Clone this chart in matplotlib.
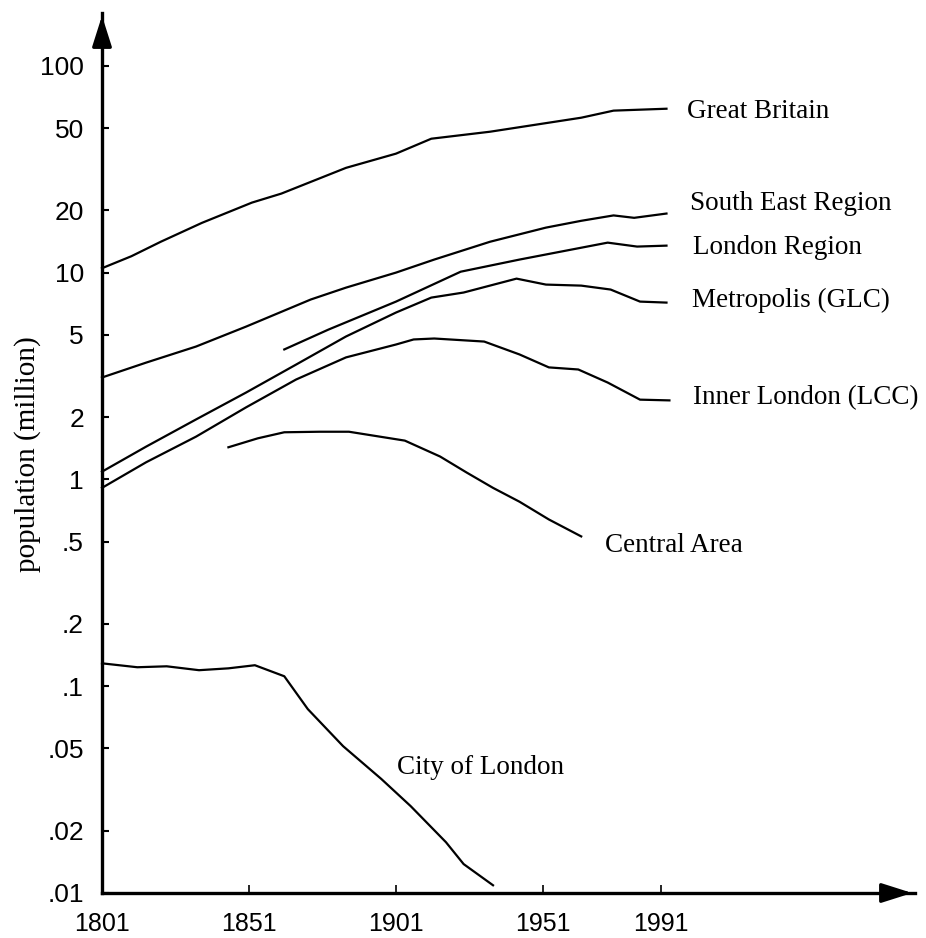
import matplotlib
matplotlib.use("Agg")
import matplotlib.pyplot as plt
from matplotlib import font_manager

# ---------------- data ----------------
gb_years = [1801, 1811, 1821, 1835, 1852, 1862, 1884, 1901, 1913, 1933, 1964, 1975, 1993]
gb_vals = [10.5, 12.0, 14.1, 17.4, 21.8, 24.1, 32.1, 37.6, 44.4, 48.0, 56.1, 60.7, 62.0]

se_years = [1801, 1816, 1833, 1850, 1872, 1884, 1901, 1914, 1933, 1952, 1964, 1975, 1982, 1993]
se_vals = [3.11, 3.67, 4.39, 5.48, 7.41, 8.46, 10.0, 11.56, 14.1, 16.5, 17.8, 18.9, 18.4, 19.3]

lr_years = [1863, 1878, 1901, 1923, 1943, 1973, 1983, 1993]
lr_vals = [4.25, 5.30, 7.24, 10.1, 11.56, 13.96, 13.36, 13.5]

glc_years = [1801, 1816, 1833, 1850, 1867, 1884, 1901, 1913, 1924, 1942, 1952, 1964, 1974, 1984, 1993]
glc_vals = [1.09, 1.44, 1.95, 2.63, 3.59, 4.91, 6.41, 7.57, 8.01, 9.35, 8.75, 8.65, 8.28, 7.24, 7.16]

lcc_years = [1801, 1816, 1833, 1850, 1867, 1884, 1901, 1907, 1914, 1931, 1943, 1953, 1963, 1973, 1984, 1994]
lcc_vals = [0.91, 1.21, 1.61, 2.23, 3.04, 3.89, 4.49, 4.75, 4.80, 4.64, 4.02, 3.48, 3.40, 2.94, 2.43, 2.41]

ca_years = [1844, 1854, 1863, 1875, 1885, 1904, 1916, 1925, 1934, 1943, 1953, 1964]
ca_vals = [1.43, 1.58, 1.69, 1.70, 1.70, 1.54, 1.29, 1.08, 0.91, 0.78, 0.64, 0.53]

city_years = [1801, 1813, 1823, 1834, 1844, 1853, 1863, 1871, 1883, 1896, 1906, 1918, 1924, 1934]
city_vals = [0.129, 0.1235, 0.1248, 0.1195, 0.122, 0.1263, 0.1117, 0.0775, 0.0513, 0.0356,
             0.0263, 0.0176, 0.0138, 0.0109]

series_names = ["Great Britain", "South East Region", "London Region", "Metropolis (GLC)",
                "Inner London (LCC)", "Central Area", "City of London"]

y_ticks = [100, 50, 20, 10, 5, 2, 1, 0.5, 0.2, 0.1, 0.05, 0.02, 0.01]
y_ticklabels = ["100", "50", "20", "10", "5", "2", "1", ".5", ".2", ".1", ".05", ".02", ".01"]
x_ticks = [1801, 1851, 1901, 1951, 1991]
x_ticklabels = ["1801", "1851", "1901", "1951", "1991"]

# ---------------- fonts ----------------
available = {f.name for f in font_manager.fontManager.ttflist}
serif = "Liberation Serif" if "Liberation Serif" in available else "DejaVu Serif"
tickfont = "Liberation Sans Narrow" if "Liberation Sans Narrow" in available else "Liberation Sans"

W, H = 926, 938
fig = plt.figure(figsize=(W / 100, H / 100), dpi=100)
fig.patch.set_facecolor("white")

# axes box in pixels: left 102, right 915, bottom 893, top 13
L, R, B, T = 102, 915, 893, 13
ax = fig.add_axes([L / W, 1 - B / H, (R - L) / W, (B - T) / H])
ax.set_yscale("log")
ax.set_xlim(1801, 1801 + (R - L) / 2.94)
ax.set_ylim(0.01, 180)

lw = 1.6
for yrs, vals in [(gb_years, gb_vals), (se_years, se_vals), (lr_years, lr_vals),
                  (glc_years, glc_vals), (lcc_years, lcc_vals), (ca_years, ca_vals),
                  (city_years, city_vals)]:
    ax.plot(yrs, vals, color="black", lw=lw, solid_joinstyle="round", clip_on=False)

for s in ["top", "right"]:
    ax.spines[s].set_visible(False)
for s in ["left", "bottom"]:
    ax.spines[s].set_linewidth(2.4)

# arrow heads
arrow = dict(arrowstyle="-|>,head_length=0.85,head_width=0.27",
             color="black", lw=2.4, mutation_scale=22)
ax.annotate("", xy=(0, 1.0), xytext=(0, 0.97), xycoords="axes fraction", arrowprops=arrow)
ax.annotate("", xy=(1.0, 0), xytext=(0.97, 0), xycoords="axes fraction", arrowprops=arrow)

ax.minorticks_off()
ax.set_yticks(y_ticks)
ax.set_yticklabels(y_ticklabels, fontfamily=tickfont, fontsize=19)
ax.set_xticks(x_ticks)
ax.set_xticklabels(x_ticklabels, fontfamily=tickfont, fontsize=18)
ax.tick_params(axis="y", direction="in", length=5, width=1.5, pad=13)
ax.tick_params(axis="x", direction="in", length=6, width=1.2, pad=14)
ax.yaxis.set_minor_locator(matplotlib.ticker.NullLocator())

# series labels (left x, center y in pixels)
label_pos = [(687, 112), (690, 203), (693, 248), (692, 300), (693, 398), (605, 545), (397, 767)]
for name, (px, py) in zip(series_names, label_pos):
    fig.text(px / W, 1 - py / H, name, ha="left", va="center",
             fontfamily=serif, fontsize=19.5)

fig.text(28 / W, 1 - 454 / H, "population (million)", rotation=90,
         ha="center", va="center", fontfamily=serif, fontsize=21)

fig.savefig("out.png", dpi=100, facecolor="white")
